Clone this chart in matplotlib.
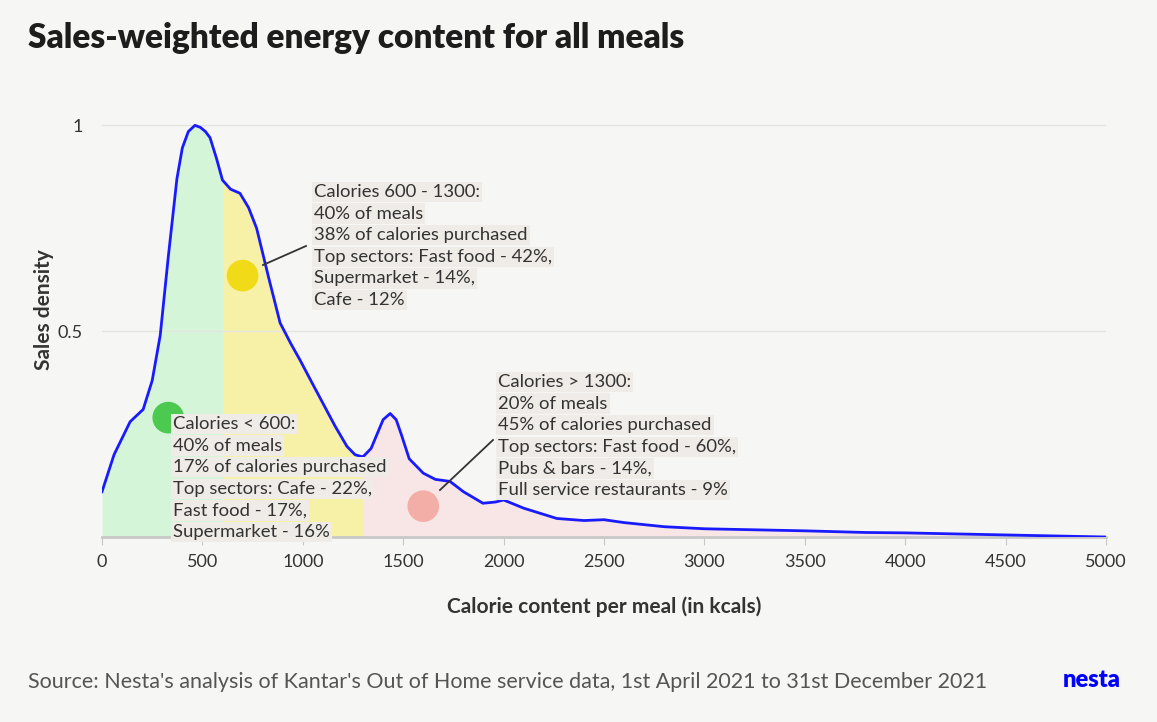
import matplotlib
matplotlib.use("Agg")
import matplotlib.pyplot as plt
import numpy as np

plt.rcParams['font.family'] = ['Lato', 'DejaVu Sans']

kcal = [0, 60, 140, 205, 250, 290, 330, 373, 400, 430, 463, 490, 515, 538, 570, 600, 640, 687, 730, 770, 830, 887,
        940, 986, 1040, 1100, 1160, 1220, 1260, 1295, 1300, 1340, 1370, 1400, 1435, 1465, 1490, 1530, 1600, 1660,
        1733, 1800, 1897, 1960, 2000, 2100, 2265, 2400, 2500, 2600, 2800, 3000, 3200, 3500, 3800, 4000, 4500, 5000]
density = [0.11, 0.20, 0.28, 0.31, 0.38, 0.49, 0.68, 0.87, 0.945, 0.985, 1.0, 0.995, 0.985, 0.97, 0.92, 0.867,
           0.845, 0.835, 0.80, 0.75, 0.63, 0.52, 0.47, 0.43, 0.38, 0.325, 0.27, 0.22, 0.20, 0.195, 0.195, 0.215,
           0.25, 0.285, 0.30, 0.285, 0.25, 0.19, 0.155, 0.14, 0.135, 0.11, 0.082, 0.085, 0.09, 0.07, 0.045, 0.04,
           0.042, 0.035, 0.025, 0.02, 0.018, 0.015, 0.011, 0.01, 0.005, 0.0]
bands = [0, 600, 1300, 5000]
band_colors = ['#d5f5d9', '#f7f1a8', '#f8e6e6']
dot_x = [330, 700, 1600]
dot_y = [0.29, 0.635, 0.075]
dot_colors = ['#4cc94f', '#f1db18', '#f3aea7']
labels = [
    ["Calories < 600:", "40% of meals", "17% of calories purchased", "Top sectors: Cafe - 22%,",
     "Fast food - 17%,", "Supermarket - 16%"],
    ["Calories 600 - 1300:", "40% of meals", "38% of calories purchased", "Top sectors: Fast food - 42%,",
     "Supermarket - 14%,", "Cafe - 12%"],
    ["Calories > 1300:", "20% of meals", "45% of calories purchased", "Top sectors: Fast food - 60%,",
     "Pubs & bars - 14%,", "Full service restaurants - 9%"],
]
label_pos = [(173, 424), (314, 192), (498, 382)]  # pixel positions of first line

W, H = 1157, 722
fig = plt.figure(figsize=(W/100, H/100), dpi=100, facecolor='#f6f7f4')
ax = fig.add_axes([102/W, 1-537/H, (1106-102)/W, (537-113)/H])
ax.set_facecolor('#f6f7f4')
x = np.array(kcal, float); y = np.array(density)
for i in range(3):
    m = (x >= bands[i]) & (x <= bands[i+1])
    ax.fill_between(x[m], 0, y[m], color=band_colors[i], lw=0, zorder=1)
ax.plot(x, y, color='#1a1aff', lw=2, zorder=3, solid_joinstyle='round')
ax.scatter(dot_x, dot_y, s=520, c=dot_colors, zorder=4, lw=0)
ax.set_xlim(0, 5000); ax.set_ylim(0, 1.03)
ax.set_xticks(range(0, 5001, 500))
ax.set_yticks([0.5, 1]); ax.set_yticklabels(['0.5', '1'])
ax.grid(axis='y', color='#e4e4e0', lw=1, zorder=0)
for s in ['top', 'right', 'left']:
    ax.spines[s].set_visible(False)
ax.spines['bottom'].set_color('#c8c8c8'); ax.spines['bottom'].set_linewidth(2)
ax.tick_params(axis='x', colors='#c8c8c8', labelcolor='#333333', labelsize=13, length=6, pad=6)
ax.tick_params(axis='y', length=0, labelcolor='#333333', labelsize=13, pad=14)

for (a, b), (c, d) in [((263, 265), (306, 246)), ((440, 490), (493, 440))]:
    fig.add_artist(plt.Line2D([a/W, c/W], [1-b/H, 1-d/H], color='#333333', lw=1.3, zorder=5))

for lines, (lx, ly) in zip(labels, label_pos):
    for k, t in enumerate(lines):
        fig.text(lx/W, 1-(ly+k*21.6)/H, t, fontsize=13.3, color='#333333', va='center', ha='left',
                 bbox=dict(boxstyle='square,pad=0.12', fc='#efebe6', ec='none'), zorder=6)

fig.text(28/W, 1-38/H, "Sales-weighted energy content for all meals", fontsize=24, fontweight='heavy',
         color='#1d1d1d', va='center')
fig.text(44/W, 1-310/H, "Sales density", rotation=90, fontsize=15, fontweight='bold', color='#333333',
         va='center', ha='center')
fig.text(604/W, 1-607/H, "Calorie content per meal (in kcals)", fontsize=15, fontweight='bold',
         color='#333333', va='center', ha='center')
fig.text(28/W, 1-682/H, "Source: Nesta's analysis of Kantar's Out of Home service data, 1st April 2021 to 31st December 2021",
         fontsize=15.5, color='#555555', va='center')
fig.text(1121/W, 1-680/H, "nesta", fontsize=17, fontweight='heavy', color='#0000ff', va='center', ha='right')
fig.savefig('out.png', dpi=100, facecolor=fig.get_facecolor())
